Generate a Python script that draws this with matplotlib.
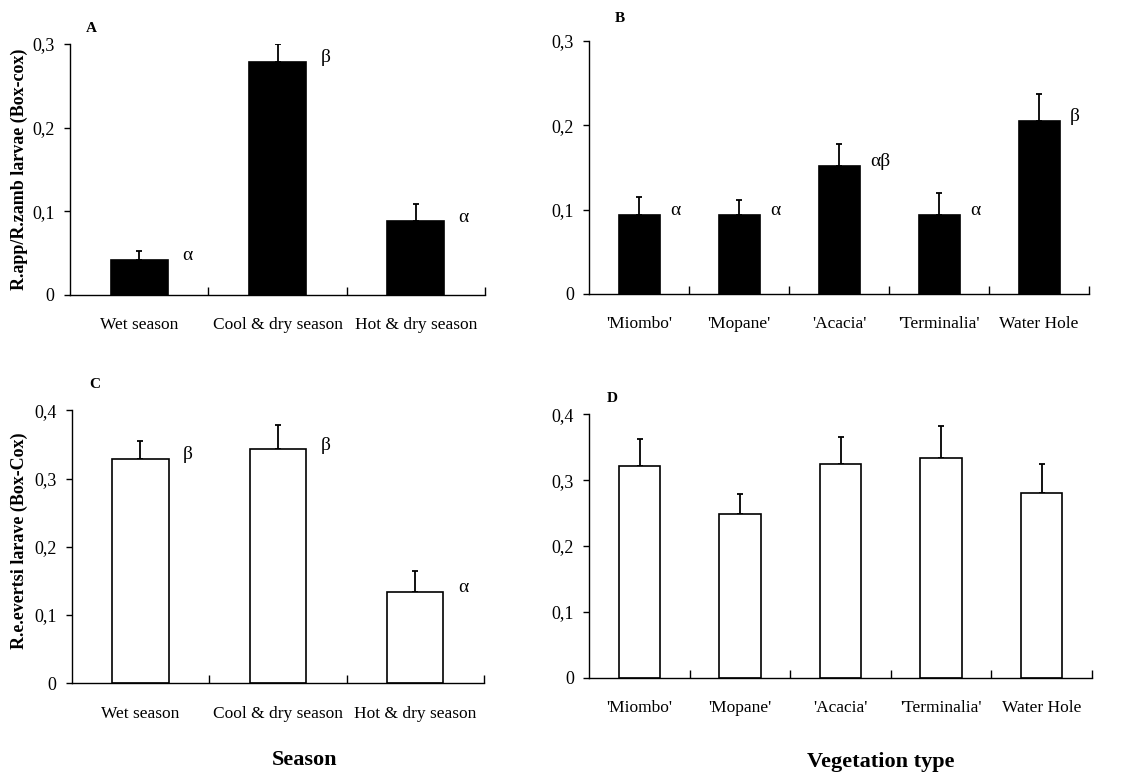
import numpy as np
import matplotlib
matplotlib.use('Agg')
import matplotlib.pyplot as plt
from matplotlib.ticker import FuncFormatter

plt.rcParams['font.family'] = ['Liberation Serif', 'DejaVu Serif']

# Data
seasons = ['Wet season', 'Cool & dry season', 'Hot & dry season']
vegetation = ["'Miombo'", "'Mopane'", "'Acacia'", "'Terminalia'", 'Water Hole']

rapp_season = [0.042, 0.279, 0.088]
rapp_season_err = [0.010, 0.021, 0.021]
rapp_season_sig = ['α', 'β', 'α']

rapp_veg = [0.094, 0.094, 0.152, 0.094, 0.205]
rapp_veg_err = [0.021, 0.017, 0.026, 0.026, 0.032]
rapp_veg_sig = ['α', 'α', 'αβ', 'α', 'β']

revert_season = [0.329, 0.343, 0.134]
revert_season_err = [0.026, 0.035, 0.031]
revert_season_sig = ['β', 'β', 'α']

revert_veg = [0.322, 0.249, 0.324, 0.333, 0.280]
revert_veg_err = [0.041, 0.030, 0.042, 0.050, 0.045]


def comma_fmt(v, pos):
    if abs(v) < 1e-9:
        return '0'
    return ('%.1f' % v).replace('.', ',')


def panel(ax, cats, vals, errs, sigs, filled, ymax, letter, letter_xy):
    n = len(cats)
    x = np.arange(n)
    fc = 'black' if filled else 'white'
    ax.bar(x, vals, width=0.41, color=fc, edgecolor='black', linewidth=1.2, zorder=2)
    ax.errorbar(x, vals, yerr=[np.zeros(n), errs], fmt='none', ecolor='black',
                elinewidth=1.3, capsize=2.5, capthick=1.3, zorder=1)
    if sigs is not None:
        for xi, v, s in zip(x, vals, sigs):
            ax.annotate(s, (xi + 0.31, v), xytext=(0, 3), textcoords='offset points',
                        ha='left', va='center', fontsize=14)
    ax.set_xlim(-0.5, n - 0.5)
    ax.set_ylim(0, ymax)
    ax.set_yticks(np.arange(0, ymax + 0.001, 0.1))
    ax.yaxis.set_major_formatter(FuncFormatter(comma_fmt))
    ax.set_xticks(x)
    ax.set_xticklabels(cats, fontsize=12.5)
    ax.set_xticks(np.arange(n) + 0.5, minor=True)
    ax.tick_params(axis='x', which='major', length=0, pad=16)
    ax.tick_params(axis='x', which='minor', direction='in', length=6, width=1)
    ax.tick_params(axis='y', direction='out', length=4, width=1, labelsize=13, pad=7)
    ax.spines['top'].set_visible(False)
    ax.spines['right'].set_visible(False)
    ax.spines['left'].set_linewidth(1.0)
    ax.spines['bottom'].set_linewidth(1.0)
    ax.figure.text(letter_xy[0], letter_xy[1], letter, fontsize=11, fontweight='bold',
                   ha='center', va='center')


fig = plt.figure(figsize=(11.42, 7.73), dpi=100)
axA = fig.add_axes([0.0613, 0.6184, 0.3634, 0.3247])
axB = fig.add_axes([0.5158, 0.6197, 0.4378, 0.3276])
axC = fig.add_axes([0.0628, 0.1160, 0.3610, 0.3532])
axD = fig.add_axes([0.5160, 0.1233, 0.4400, 0.3407])

panel(axA, seasons, rapp_season, rapp_season_err, rapp_season_sig, True, 0.3, 'A', (0.080, 0.963))
panel(axB, vegetation, rapp_veg, rapp_veg_err, rapp_veg_sig, True, 0.3, 'B', (0.543, 0.976))
panel(axC, seasons, revert_season, revert_season_err, revert_season_sig, False, 0.4, 'C', (0.083, 0.502))
panel(axD, vegetation, revert_veg, revert_veg_err, None, False, 0.4, 'D', (0.536, 0.485))

fig.text(0.017, 0.781, 'R.app/R.zamb larvae (Box-cox)', rotation=90, fontsize=13,
         fontweight='bold', ha='center', va='center')
fig.text(0.017, 0.300, 'R.e.evertsi larave (Box-Cox)', rotation=90, fontsize=13,
         fontweight='bold', ha='center', va='center')
fig.text(0.267, 0.017, 'Season', fontsize=16, fontweight='bold', ha='center', va='center')
fig.text(0.771, 0.014, 'Vegetation type', fontsize=16, fontweight='bold', ha='center', va='center')

fig.savefig('out.png', dpi=100)
